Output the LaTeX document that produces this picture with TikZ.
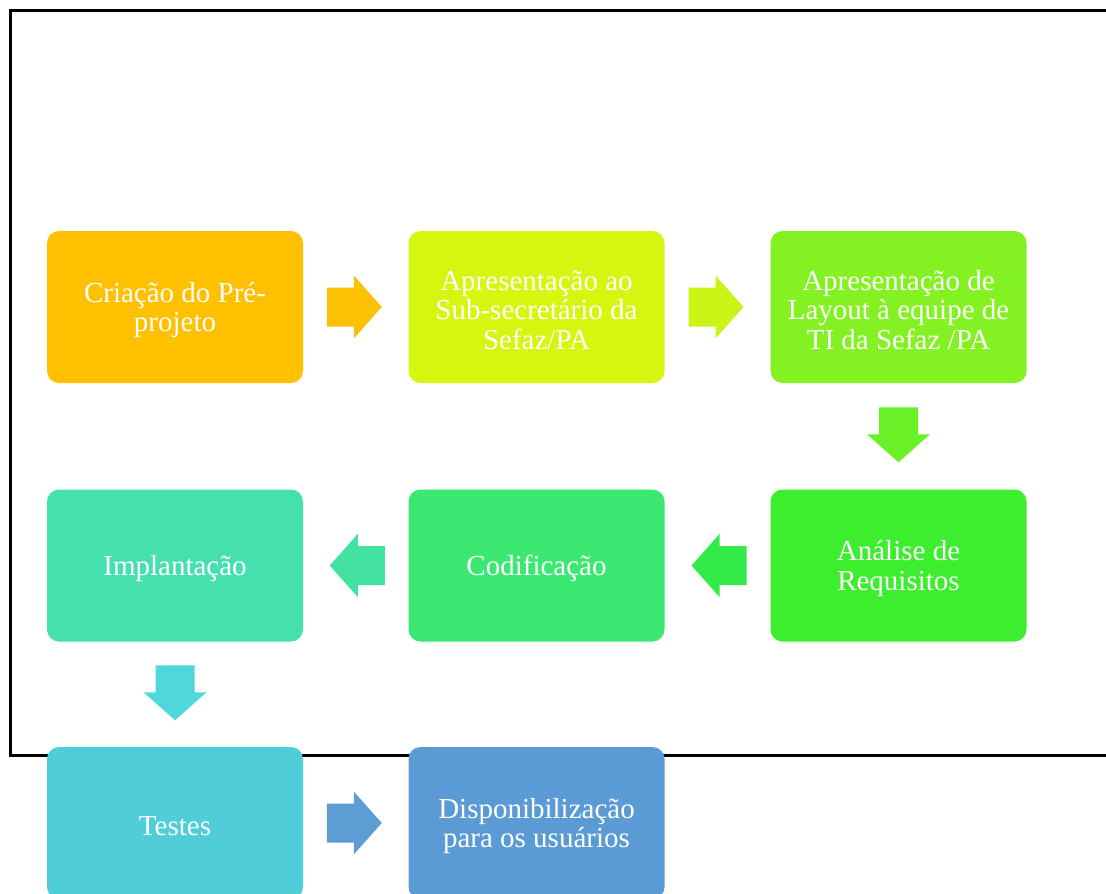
\documentclass[tikz,border=0pt]{standalone}
\usepackage{fontspec}
\setmainfont{Liberation Serif}
\usetikzlibrary{calc}
\definecolor{c1}{RGB}{255,192,0}
\definecolor{c2}{RGB}{214,245,15}
\definecolor{c3}{RGB}{132,242,34}
\definecolor{c4}{RGB}{60,238,46}
\definecolor{c5}{RGB}{58,232,114}
\definecolor{c6}{RGB}{70,224,174}
\definecolor{c7}{RGB}{79,206,218}
\definecolor{c8}{RGB}{91,155,213}
\definecolor{a1}{RGB}{252,192,4}
\definecolor{a2}{RGB}{202,244,22}
\definecolor{a3}{RGB}{106,240,38}
\definecolor{a4}{RGB}{50,235,72}
\definecolor{a5}{RGB}{68,226,162}
\definecolor{a6}{RGB}{78,216,218}
\definecolor{a7}{RGB}{93,157,212}
\newcommand\blockarrow[3]{%
  \fill[#3, shift={(#1)}, rotate=#2] (-29,-19.5) -- (-2,-19.5) -- (-2,-31.5) -- (26,0)
    -- (-2,31.5) -- (-2,19.5) -- (-29,19.5) -- cycle;}
\begin{document}
\begin{tikzpicture}[x=1pt,y=-1pt,
  stepbox/.style={rounded corners=12pt, minimum width=256pt, minimum height=152pt,
    inner sep=0pt},
  steptext/.style={inner sep=0pt, text=white, align=center, yshift=-3pt,
    font=\fontsize{29}{29.5}\selectfont}]
\useasboundingbox (0,0) rectangle (1106,894);
\fill[white] (0,0) rectangle (1106,894);
% frame
\draw[line width=2.6pt] (1120,10.5) -- (10.5,10.5) -- (10.5,755.5) -- (1120,755.5);
% boxes
\node[stepbox, fill=c1] (b1) at (175,307) {};
\node[stepbox, fill=c2] (b2) at (536.5,307) {};
\node[stepbox, fill=c3] (b3) at (898.5,307) {};
\node[stepbox, fill=c4] (b4) at (898.5,565.5) {};
\node[stepbox, fill=c5] (b5) at (536.5,565.5) {};
\node[stepbox, fill=c6] (b6) at (175,565.5) {};
\node[stepbox, fill=c7] (b7) at (175,823) {};
\node[stepbox, fill=c8] (b8) at (536.5,823) {};
\node[steptext] (t1) at (b1.center) {Criação do Pré-\\projeto};
\node[steptext] (t2) at (b2.center) {Apresentação ao\\Sub-secretário da\\Sefaz/PA};
\node[steptext] (t3) at (b3.center) {Apresentação de\\Layout à equipe de\\TI da Sefaz /PA};
\node[steptext] (t4) at (b4.center) {Análise de\\Requisitos};
\node[steptext] (t5) at (b5.center) {Codificação};
\node[steptext] (t6) at (b6.center) {Implantação};
\node[steptext] (t7) at (b7.center) {Testes};
\node[steptext] (t8) at (b8.center) {Disponibilização\\para os usuários};
% arrow positions
\coordinate (m12) at ($(b1.east)!0.5!(b2.west)$);
\coordinate (m23) at ($(b2.east)!0.5!(b3.west)$);
\coordinate (m34) at ($(b3.south)!0.5!(b4.north)$);
\coordinate (m45) at ($(b4.west)!0.5!(b5.east)$);
\coordinate (m56) at ($(b5.west)!0.5!(b6.east)$);
\coordinate (m67) at ($(b6.south)!0.5!(b7.north)$);
\coordinate (m78) at ($(b7.east)!0.5!(b8.west)$);
\blockarrow{m12}{0}{a1}
\blockarrow{m23}{0}{a2}
\blockarrow{m34}{-90}{a3}
\blockarrow{m45}{180}{a4}
\blockarrow{m56}{180}{a5}
\blockarrow{m67}{-90}{a6}
\blockarrow{m78}{0}{a7}
\end{tikzpicture}
\end{document}
